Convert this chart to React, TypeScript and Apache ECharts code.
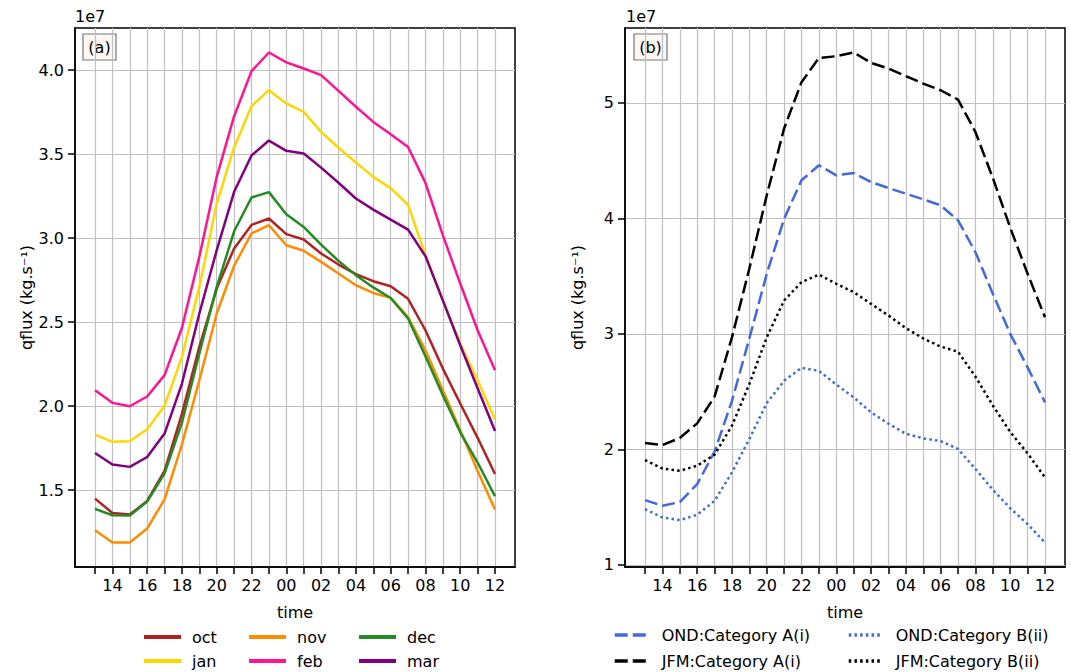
import React, { useEffect, useRef } from "react";
import * as echarts from "echarts";

// hours 13 .. 36 (36 = 12 next day)
const hours = [13, 14, 15, 16, 17, 18, 19, 20, 21, 22, 23, 24, 25, 26, 27, 28, 29, 30, 31, 32, 33, 34, 35, 36];
const labelHours = [14, 16, 18, 20, 22, 24, 26, 28, 30, 32, 34, 36];

// panel (a), units of 1e7 kg/s
const oct = [1.45, 1.365, 1.355, 1.436, 1.615, 1.956, 2.353, 2.7, 2.939, 3.079, 3.117, 3.024, 2.992, 2.909, 2.843, 2.786, 2.744, 2.714, 2.639, 2.452, 2.224, 2.016, 1.812, 1.597];
const nov = [1.262, 1.189, 1.189, 1.272, 1.446, 1.773, 2.155, 2.552, 2.836, 3.028, 3.077, 2.958, 2.925, 2.859, 2.79, 2.72, 2.674, 2.645, 2.53, 2.333, 2.095, 1.857, 1.615, 1.385];
const dec = [1.389, 1.351, 1.349, 1.433, 1.6, 1.902, 2.314, 2.71, 3.041, 3.242, 3.274, 3.143, 3.067, 2.962, 2.865, 2.78, 2.707, 2.644, 2.522, 2.297, 2.066, 1.845, 1.665, 1.464];
const jan = [1.831, 1.788, 1.792, 1.863, 2.003, 2.294, 2.71, 3.206, 3.54, 3.786, 3.881, 3.802, 3.752, 3.633, 3.538, 3.45, 3.365, 3.298, 3.199, 2.899, 2.631, 2.373, 2.155, 1.921];
const feb = [2.095, 2.02, 2.0, 2.058, 2.185, 2.467, 2.89, 3.365, 3.726, 3.994, 4.105, 4.046, 4.01, 3.97, 3.877, 3.782, 3.692, 3.619, 3.543, 3.329, 3.018, 2.73, 2.452, 2.214];
const mar = [1.722, 1.653, 1.639, 1.698, 1.837, 2.135, 2.552, 2.929, 3.276, 3.492, 3.581, 3.52, 3.504, 3.42, 3.33, 3.236, 3.17, 3.11, 3.051, 2.893, 2.63, 2.363, 2.107, 1.853];

// panel (b)
const ondA = [1.56, 1.511, 1.543, 1.699, 1.98, 2.42, 2.96, 3.52, 3.997, 4.33, 4.46, 4.373, 4.393, 4.315, 4.263, 4.214, 4.165, 4.113, 3.983, 3.708, 3.347, 3.0, 2.71, 2.407];
const jfmA = [2.055, 2.037, 2.098, 2.225, 2.456, 2.97, 3.566, 4.2, 4.78, 5.18, 5.39, 5.405, 5.437, 5.347, 5.298, 5.232, 5.168, 5.11, 5.029, 4.748, 4.35, 3.92, 3.52, 3.144];
const ondB = [1.482, 1.41, 1.387, 1.433, 1.554, 1.8, 2.09, 2.4, 2.595, 2.706, 2.68, 2.56, 2.45, 2.32, 2.222, 2.135, 2.095, 2.072, 2.003, 1.83, 1.65, 1.49, 1.352, 1.193];
const jfmB = [1.907, 1.834, 1.814, 1.858, 1.953, 2.205, 2.566, 2.97, 3.289, 3.448, 3.514, 3.434, 3.361, 3.26, 3.159, 3.05, 2.96, 2.89, 2.845, 2.63, 2.38, 2.15, 1.965, 1.756];

const yTicksA = [1.5, 2.0, 2.5, 3.0, 3.5, 4.0];
const yTicksB = [1, 2, 3, 4, 5];

const FONT = "DejaVu Sans";

function padRange(arrs: number[][]) {
  const all = arrs.flat();
  const mn = Math.min(...all);
  const mx = Math.max(...all);
  const m = (mx - mn) * 0.05;
  return [mn - m, mx + m];
}

const [xMin, xMax] = padRange([hours]);
const [yMinA, yMaxA] = padRange([oct, nov, dec, jan, feb, mar]);
const [yMinB, yMaxB] = padRange([ondA, jfmA, ondB, jfmB]);

function xAxis(gridIndex: number) {
  return {
    type: "value",
    gridIndex,
    min: xMin,
    max: xMax,
    name: "time",
    nameLocation: "middle",
    nameGap: 37,
    nameTextStyle: { fontSize: 16, color: "#000", fontFamily: FONT },
    axisLine: { show: true, onZero: false, lineStyle: { color: "#000", width: 1.5 } },
    axisTick: { show: true, length: 7, lineStyle: { color: "#000", width: 1.5 }, customValues: hours },
    axisLabel: {
      customValues: labelHours,
      formatter: (v: number) => String(Math.round(v) % 24).padStart(2, "0"),
      fontSize: 16,
      color: "#000",
      fontFamily: FONT,
      margin: 10,
    },
    splitLine: { show: true, lineStyle: { color: "#c0c0c0", width: 1.2 } },
  };
}

function yAxis(gridIndex: number, min: number, max: number, ticks: number[], digits: number, gap: number) {
  return {
    type: "value",
    gridIndex,
    min,
    max,
    name: "qflux (kg.s\u207B\u00B9)",
    nameLocation: "middle",
    nameGap: gap,
    nameTextStyle: { fontSize: 16, color: "#000", fontFamily: FONT },
    axisLine: { show: true, onZero: false, lineStyle: { color: "#000", width: 1.5 } },
    axisTick: { show: true, length: 7, lineStyle: { color: "#000", width: 1.5 }, customValues: ticks },
    axisLabel: {
      customValues: ticks,
      formatter: (v: number) => v.toFixed(digits),
      fontSize: 16,
      color: "#000",
      fontFamily: FONT,
      margin: 11,
    },
    splitLine: { show: true, lineStyle: { color: "#c0c0c0", width: 1.2 } },
  };
}

function line(name: string, vals: number[], color: string, idx: number, type: any = "solid") {
  return {
    type: "line",
    name,
    xAxisIndex: idx,
    yAxisIndex: idx,
    data: hours.map((h, i) => [h, vals[i]]),
    showSymbol: false,
    symbol: "none",
    lineStyle: { color, width: 2.5, type, cap: "butt" },
    itemStyle: { color },
    z: 3,
  };
}

const DASH = [13, 5];
const DOT = [2.5, 3.2];

function legendItem(name: string, left: number, top: number, iconW: number, gap: number, width: number) {
  return {
    data: [name],
    left,
    top,
    padding: 0,
    itemWidth: iconW,
    itemHeight: 14,
    orient: "horizontal",
    selectedMode: false,
    itemStyle: { opacity: 0 },
    lineStyle: { width },
    textStyle: { fontSize: 16, color: "#000", fontFamily: FONT, padding: [0, 0, 0, gap] },
  };
}

function labelBox(x: number, label: string) {
  return {
    type: "group",
    children: [
      {
        type: "rect",
        shape: { x, y: 34, width: 33, height: 26 },
        style: { fill: "#fcf8f3", stroke: "#777777", lineWidth: 1.2 },
      },
      {
        type: "text",
        x: x + 16.5,
        y: 47,
        style: { text: label, font: `16px "${FONT}"`, fill: "#000", align: "center", verticalAlign: "middle" },
      },
    ],
  };
}

export default function App() {
  const ref = useRef<HTMLDivElement>(null);
  useEffect(() => {
    if (!ref.current) return;
    const chart = echarts.init(ref.current, null, { renderer: "svg" });
    chart.setOption({
      animation: false,
      backgroundColor: "#fff",
      textStyle: { fontFamily: FONT },
      grid: [
        { left: 75, top: 28, width: 440, height: 539, show: true, borderColor: "#000", borderWidth: 1.5, backgroundColor: "transparent" },
        { left: 625, top: 28, width: 440, height: 539, show: true, borderColor: "#000", borderWidth: 1.5, backgroundColor: "transparent" },
      ],
      xAxis: [xAxis(0), xAxis(1)],
      yAxis: [yAxis(0, yMinA, yMaxA, yTicksA, 1, 41), yAxis(1, yMinB, yMaxB, yTicksB, 0, 40)],
      legend: [
        legendItem("oct", 142, 629, 37, 6, 4),
        legendItem("nov", 247, 629, 37, 6, 4),
        legendItem("dec", 357, 629, 37, 6, 4),
        legendItem("jan", 142, 653, 37, 6, 4),
        legendItem("feb", 247, 653, 37, 6, 4),
        legendItem("mar", 357, 653, 37, 6, 4),
        legendItem("OND:Category A(i)", 613, 627, 33, 9, 3.5),
        legendItem("OND:Category B(ii)", 847, 627, 33, 9, 3.5),
        legendItem("JFM:Category A(i)", 613, 653, 33, 9, 3.5),
        legendItem("JFM:Category B(ii)", 847, 653, 33, 9, 3.5),
      ],
      graphic: [
        { type: "text", x: 75, y: 8, style: { text: "1e7", font: `16px "${FONT}"`, fill: "#000", verticalAlign: "top" } },
        { type: "text", x: 626, y: 8, style: { text: "1e7", font: `16px "${FONT}"`, fill: "#000", verticalAlign: "top" } },
        labelBox(83, "(a)"),
        labelBox(634, "(b)"),
      ],
      series: [
        line("oct", oct, "#b22222", 0),
        line("nov", nov, "#ff8c00", 0),
        line("dec", dec, "#228b22", 0),
        line("jan", jan, "#ffd700", 0),
        line("feb", feb, "#ff1493", 0),
        line("mar", mar, "#800080", 0),
        line("OND:Category A(i)", ondA, "#4169e1", 1, DASH),
        line("JFM:Category A(i)", jfmA, "#000000", 1, DASH),
        line("OND:Category B(ii)", ondB, "#4169e1", 1, DOT),
        line("JFM:Category B(ii)", jfmB, "#000000", 1, DOT),
      ],
    });
    return () => chart.dispose();
  }, []);
  return <div ref={ref} style={{ position: "fixed", left: 0, top: 0, width: 1071, height: 672 }} />;
}
